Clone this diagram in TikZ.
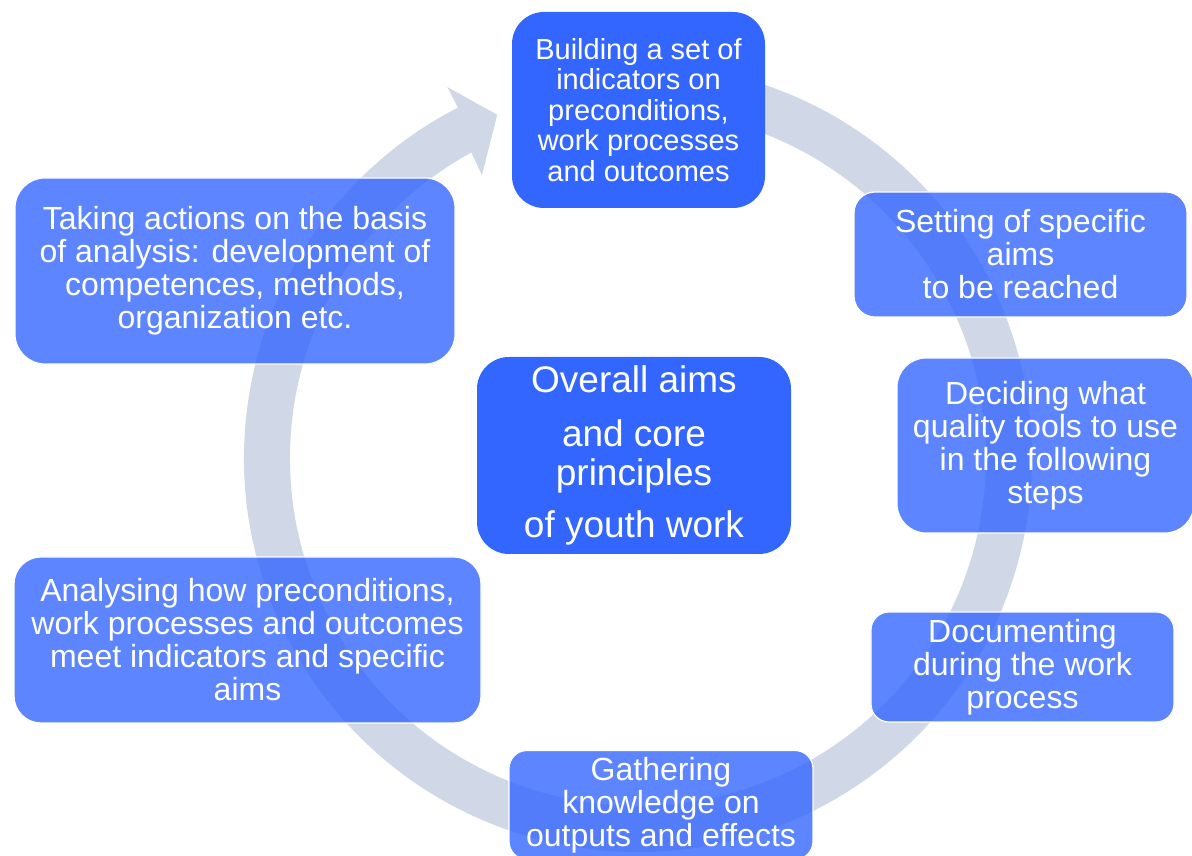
\documentclass[tikz,border=0pt]{standalone}
\usepackage{fontspec}
\setmainfont{Liberation Sans}
\usepackage{xcolor}
\definecolor{ringGray}{RGB}{208,216,232}
\definecolor{stepBlue}{RGB}{51,102,255}

\begin{document}
\begin{tikzpicture}[x=1pt, y=1pt,
	stepbox/.style={rounded corners=#1, fill=stepBlue, fill opacity=0.8, text opacity=1,
		draw=white, line width=1.2pt, text=white, align=center, inner sep=0pt,
		font=\fontsize{32}{33}\selectfont},
	mainbox/.style={rounded corners=#1, fill=stepBlue, text=white, align=center, inner sep=0pt}]
			\clip (0,0) rectangle (1192,856); % picture frame
			\coordinate (hub) at (638,398);

			% Ring arrow (clockwise, head at the top left)
			\fill[ringGray] ([shift={(80:394)}]hub) arc[start angle=80, end angle=-242.8, radius=394]
				-- ([shift={(117.2:417)}]hub) -- ([shift={(112.3:371)}]hub)
				-- ([shift={(118.9:323)}]hub) -- ([shift={(118.6:348)}]hub)
				arc[start angle=-241.4, end angle=80, radius=348] -- cycle;

			% Steps round the ring
			\node[mainbox=32, minimum width=253, minimum height=196, font=\fontsize{29}{30.5}\selectfont] (build) at (638.5,746)
				{Building a set of\\indicators on\\preconditions,\\work processes\\and outcomes};
			\node[stepbox=21, minimum width=333, minimum height=125] (aims) at (1020.5,601.5)
				{Setting of specific\\aims\\to be reached};
			\node[stepbox=29, minimum width=297, minimum height=175] (tools) at (1045.5,410.5)
				{Deciding what\\quality tools to use\\in the following\\steps};
			\node[stepbox=18, minimum width=303, minimum height=110] (docs) at (1022.5,189)
				{Documenting\\during the work\\process};
			\node[stepbox=18, minimum width=304, minimum height=109] (gather) at (661,51)
				{Gathering\\knowledge on\\outputs and effects};
			\node[stepbox=27, minimum width=467, minimum height=166] (analyse) at (247.5,216)
				{Analysing how preconditions,\\work processes and outcomes\\meet indicators and specific\\aims};
			\node[stepbox=30, minimum width=440, minimum height=186] (act) at (235,585)
				{Taking actions on the basis\\of analysis: development of\\competences, methods,\\organization etc.};

			% Centre
			\node[mainbox=32, minimum width=314, minimum height=197, font=\fontsize{37}{39}\selectfont] (core) at (634,400.5)
				{Overall aims\\[15pt]and core\\principles\\[13pt]of youth work};
		\end{tikzpicture}
\end{document}
